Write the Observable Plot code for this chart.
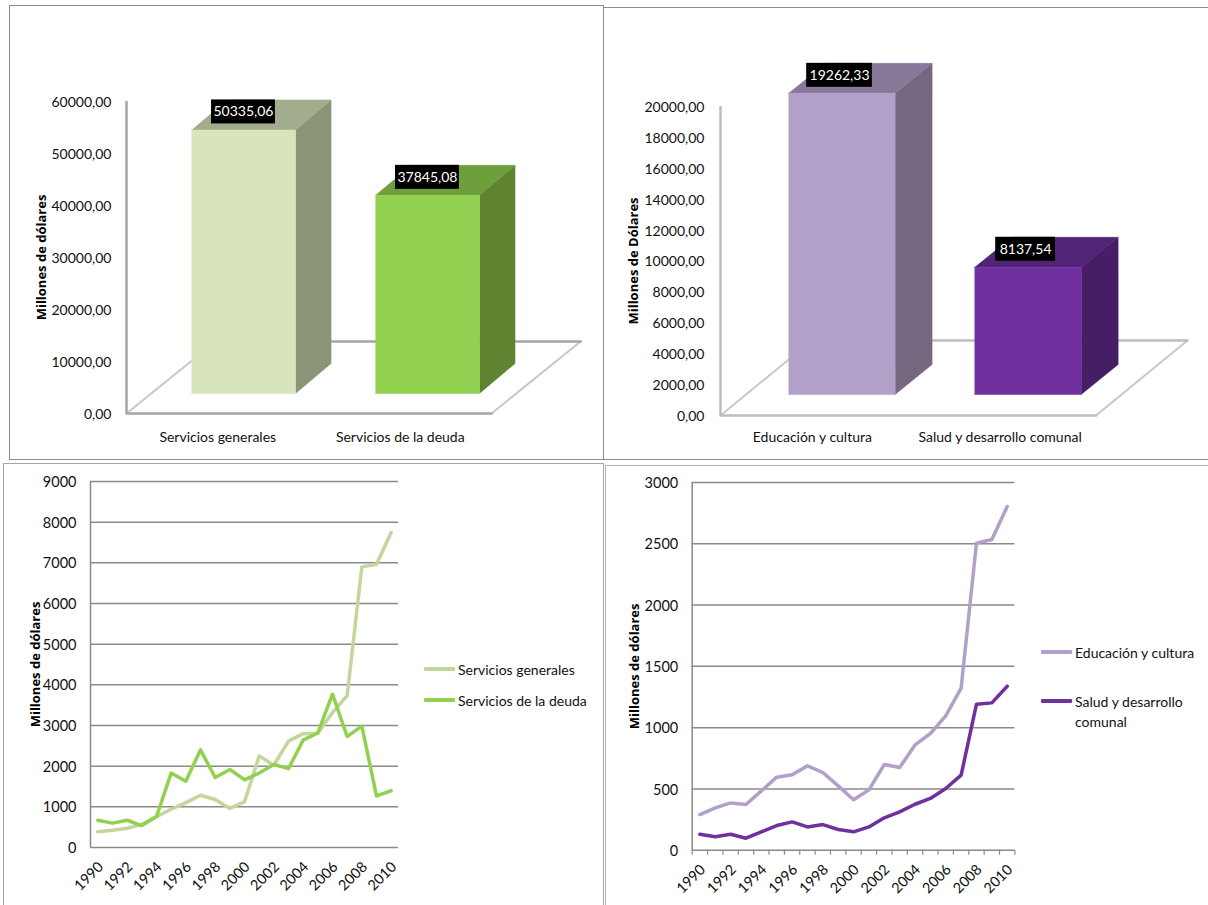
<!DOCTYPE html>
<html><head><meta charset="utf-8">
<script src="https://cdn.jsdelivr.net/npm/d3@7"></script>
<script src="https://cdn.jsdelivr.net/npm/@observablehq/plot@0.6"></script>
<style>
html,body{margin:0;padding:0;background:#fff;overflow:hidden}
#page{position:relative;width:1208px;height:905px;overflow:hidden;font-family:Lato,sans-serif;color:#111}
#page svg{position:absolute;background:none}
.frame{position:absolute;box-sizing:border-box;border:1.5px solid #8c8c8c}
.lg{position:absolute;font-size:14px;line-height:20px;white-space:nowrap}
.sw{position:absolute;height:3.5px;width:31px;border-radius:1px}
</style></head><body><div id="page"></div>
<script>
// ---- data ----
const catsA = ["Servicios generales", "Servicios de la deuda"];
const totalsA = [50335.06, 37845.08];
const catsB = ["Educación y cultura", "Salud y desarrollo comunal"];
const totalsB = [19262.33, 8137.54];
const years = d3.range(1990, 2011);
const generales = [385,425,475,570,760,940,1105,1285,1180,960,1120,2250,2025,2615,2800,2810,3320,3735,6900,6965,7745];
const deuda = [670,600,670,540,760,1830,1630,2400,1720,1920,1665,1830,2040,1940,2640,2820,3770,2730,2985,1270,1395];
const educacion = [291,345,386,373,484,596,615,688,634,525,411,492,699,674,859,952,1096,1322,2505,2535,2804];
const salud = [130,109,130,98,150,201,231,190,209,169,150,190,264,313,375,422,503,612,1191,1202,1338];

const coma = v => v.toFixed(2).replace(".", ",");
const page = document.getElementById("page");
const FONT = "Lato, sans-serif";
const TITLE_FONT = "'Open Sans', sans-serif";
const place = (el, left, top) => { el.style.left = left + "px"; el.style.top = top + "px"; page.appendChild(el); };
function frame(l, t, w, h, extra) {
  const d = document.createElement("div"); d.className = "frame";
  Object.assign(d.style, {left: l+"px", top: t+"px", width: w+"px", height: h+"px"}, extra || {});
  page.appendChild(d);
}
frame(9, 5, 595, 455);
frame(603, 7, 610, 453);
frame(3, 463, 601, 460, {borderColor:"#a6a6a6"});
frame(605, 465, 610, 460, {borderColor:"#b4b4b4"});

function chart3d({cats, totals, yMax, yStep, title, colors, box, g}) {
  const poly = (pts) => pts.map(([x, y]) => ({x, y}));
  const face = (pts, fill) => Plot.line(poly(pts), {x: "x", y: "y", fill, stroke: fill, strokeWidth: 0.5, curve: "linear"});
  const fl = [[0, 0], [2, 0], [2 + g.floorX, g.floorY], [g.floorX, g.floorY]];
  const marks = [
    Plot.line(poly([fl[0], fl[3]]), {x: "x", y: "y", stroke: "#c8c8c8", strokeWidth: 2}),
    Plot.line(poly([fl[1], fl[2]]), {x: "x", y: "y", stroke: "#c8c8c8", strokeWidth: 2}),
    Plot.line(poly([fl[2], fl[3]]), {x: "x", y: "y", stroke: g.lineColor, strokeWidth: 2.5}),
    Plot.line(poly([fl[0], fl[1]]), {x: "x", y: "y", stroke: g.lineColor, strokeWidth: 2.5}),
    Plot.ruleX([0], {y1: 0, y2: yMax, stroke: g.lineColor, strokeWidth: 2.5})
  ];
  totals.forEach((v, i) => {
    const x0 = g.x0 + i * g.step, x1 = x0 + g.w, b = g.base, t = b + v * g.k, c = colors[i];
    marks.push(
      face([[x1, b], [x1 + g.dx, b + g.dy], [x1 + g.dx, t + g.dy], [x1, t]], c.side),
      face([[x0, t], [x1, t], [x1 + g.dx, t + g.dy], [x0 + g.dx, t + g.dy]], c.top),
      face([[x0, b], [x1, b], [x1, t], [x0, t]], c.front)
    );
    const xc = (x0 + x1) / 2 - g.labShift, yc = t + g.lab, lw = coma(v).length >= 8 ? g.lw : g.lw * 0.91;
    marks.push(
      Plot.rect([0], {x1: xc - lw / 2, x2: xc + lw / 2, y1: yc - g.lh / 2, y2: yc + g.lh / 2, fill: "#000"}),
      Plot.text([coma(v)], {x: xc, y: yc, text: d => d, fill: "#fff", fontSize: 14, fontFamily: FONT})
    );
  });
  marks.push(
    Plot.axisY({ticks: d3.range(0, yMax + 1, yStep), tickFormat: coma, tickSize: 0, tickPadding: g.pad, label: null, fontSize: 14, fontFamily: FONT, fill: "#111", dy: g.tickDy}),
    Plot.axisX({ticks: cats.map((_, i) => i + 0.5), tickFormat: d => cats[d - 0.5], tickSize: 0, tickPadding: g.xPad, label: null, fontSize: 14, fontFamily: FONT, fill: "#111", dx: g.labDx}),
    Plot.text([title], {frameAnchor: "left", textAnchor: "middle", rotate: -90, dx: -g.titleGap, fontWeight: "bold", fontSize: 13, fontFamily: TITLE_FONT, fill: "#000"})
  );
  const svg = Plot.plot({
    width: box.w, height: box.h,
    marginLeft: box.ax - box.l, marginRight: box.l + box.w - box.ax1,
    marginTop: box.y1 - box.t, marginBottom: box.t + box.h - box.y0,
    x: {domain: [0, 2], axis: null}, y: {domain: [0, yMax], axis: null},
    style: {fontFamily: FONT, fontSize: "14px", overflow: "visible"},
    marks
  });
  place(svg, box.l, box.t);
}

chart3d({
  cats: catsA, totals: totalsA, yMax: 60000, yStep: 10000, title: "Millones de dólares",
  colors: [{front: "#d8e4bc", top: "#a2ad8d", side: "#8a9476"}, {front: "#92d050", top: "#6f9e3d", side: "#5e8431"}],
  box: {l: 10, t: 6, w: 590, h: 450, ax: 126, ax1: 491, y0: 413, y1: 101},
  g: {x0: 0.356, step: 1.008, w: 0.57, k: 1.007, dx: 0.195, dy: 5770, base: 3846, floorX: 0.488, floorY: 13846, lab: 3460, lh: 4615, lw: 0.35, pad: 15, tickDy: 1.5, xPad: 19, titleGap: 85, labDx: 0, labShift: 0, lineColor: "#a6a6a6"}
});
chart3d({
  cats: catsB, totals: totalsB, yMax: 20000, yStep: 2000, title: "Millones de Dólares",
  colors: [{front: "#b1a0c7", top: "#88799a", side: "#75677f"}, {front: "#7030a0", top: "#512477", side: "#461e66"}],
  box: {l: 605, t: 8, w: 600, h: 450, ax: 720, ax1: 1095.5, y0: 415, y1: 106},
  g: {x0: 0.362, step: 0.991, w: 0.568, k: 1.012, dx: 0.197, dy: 1942, base: 1359, floorX: 0.487, floorY: 4854, lab: 1165, lh: 1553, lw: 0.35, pad: 16, tickDy: 1, xPad: 17, titleGap: 87, labDx: -2, labShift: 0.012, lineColor: "#bdbdbd"}
});

function chartLines({series, yMax, yStep, box, titleGap, ticks}) {
  const rows = series.flatMap(s => s.values.map((v, i) => ({year: years[i], v, name: s.name})));
  const marks = [
    Plot.ruleY(d3.range(0, yMax + 1, yStep), {stroke: "#8a8a8a", strokeWidth: 1.5}),
    Plot.ruleX([1989.5], {stroke: "#8a8a8a", strokeWidth: 1.5})
  ];
  if (ticks) marks.push(Plot.axisX({ticks: d3.range(1989.5, 2011), tickSize: 5, tickFormat: () => "", stroke: "#8a8a8a", strokeWidth: 1.2, label: null}));
  marks.push(
    ...series.map(s => Plot.line(rows.filter(r => r.name === s.name), {x: "year", y: "v", stroke: s.color, strokeWidth: 3.5, strokeLinejoin: "round"})),
    Plot.axisY({ticks: d3.range(0, yMax + 1, yStep), tickSize: 0, tickPadding: 14, tickFormat: d => String(d), label: null, fontSize: 14.5, fontFamily: FONT, fill: "#111", dy: 1}),
    Plot.axisX({ticks: d3.range(1990, 2011, 2), tickFormat: d => String(d), tickRotate: -45, tickSize: 0, tickPadding: 17, label: null, fontSize: 14.5, fontFamily: FONT, fill: "#111", dx: 3}),
    Plot.text(["Millones de dólares"], {frameAnchor: "left", textAnchor: "middle", rotate: -90, dx: -titleGap, fontWeight: "bold", fontSize: 13, fontFamily: TITLE_FONT, fill: "#000"})
  );
  const svg = Plot.plot({
    width: box.w, height: box.h,
    marginLeft: box.ax - box.l, marginRight: box.l + box.w - box.ax1,
    marginTop: box.y1 - box.t, marginBottom: box.t + box.h - box.y0,
    x: {domain: [1989.5, 2010.5], axis: null}, y: {domain: [0, yMax], axis: null},
    style: {fontFamily: FONT, fontSize: "14px", overflow: "visible"},
    marks
  });
  place(svg, box.l, box.t);
}

chartLines({
  series: [{name: "Servicios generales", values: generales, color: "#c3d69b"}, {name: "Servicios de la deuda", values: deuda, color: "#92d050"}],
  yMax: 9000, yStep: 1000, titleGap: 55, ticks: false,
  box: {l: 5, t: 465, w: 410, h: 440, ax: 90, ax1: 398, y0: 847, y1: 481}
});
chartLines({
  series: [{name: "Educación y cultura", values: educacion, color: "#b1a0c7"}, {name: "Salud y desarrollo comunal", values: salud, color: "#7030a0"}],
  yMax: 3000, yStep: 500, titleGap: 57, ticks: true,
  box: {l: 607, t: 467, w: 415, h: 438, ax: 691.7, ax1: 1014.4, y0: 849.7, y1: 482}
});

function legend(swX, swY, color, textX, lines) {
  const s = document.createElement("div"); s.className = "sw"; s.style.background = color;
  place(s, swX, swY - 1.75);
  const t = document.createElement("div"); t.className = "lg"; t.innerHTML = lines.join("<br>");
  place(t, textX, swY - 9);
}
legend(424, 669, "#c3d69b", 458, ["Servicios generales"]);
legend(424, 700, "#92d050", 458, ["Servicios de la deuda"]);
legend(1041, 652, "#b1a0c7", 1075, ["Educación y cultura"]);
legend(1041, 701, "#7030a0", 1075, ["Salud y desarrollo", "comunal"]);
</script></body></html>
